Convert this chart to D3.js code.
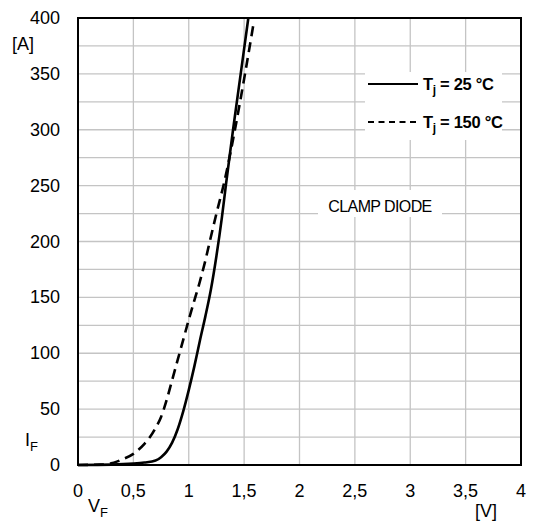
<!DOCTYPE html>
<html>
<head>
<meta charset="utf-8">
<script src="https://cdn.jsdelivr.net/npm/d3@7"></script>
<style>
body { margin: 0; background: #fff; }
svg { display: block; font-family: "Liberation Sans", Arial, sans-serif; }
</style>
</head>
<body>
<svg width="535" height="524"></svg>
<script>
// forward characteristic
var xTicks = [0, 0.5, 1, 1.5, 2, 2.5, 3, 3.5, 4];
var yTicks = [0, 50, 100, 150, 200, 250, 300, 350, 400];
var yGrid = d3.range(0, 401, 25);

var v25 = [0, 0.3, 0.5, 0.6, 0.7, 0.75, 0.8, 0.85, 0.9, 0.95, 1.0, 1.05, 1.1, 1.15, 1.2, 1.25, 1.3, 1.336, 1.4, 1.469, 1.538];
var i25 = [0, 0.3, 1.2, 2.2, 4, 7, 12, 20, 32, 48, 67, 88, 111, 133, 157, 187, 222, 251, 300, 350, 400];

var v150 = [0, 0.2, 0.3, 0.35, 0.4, 0.5, 0.6, 0.65, 0.7, 0.75, 0.8, 0.85, 0.9, 0.95, 1.0, 1.05, 1.1, 1.15, 1.19, 1.25, 1.318, 1.417, 1.508, 1.585];
var i150 = [0, 0.3, 1.5, 3, 5, 10, 19, 25, 33, 43, 58, 76, 94, 112, 130, 147, 164, 183, 200, 225, 252, 300, 350, 395];

var svg = d3.select("svg"),
	margin = {top: 18, right: 14, bottom: 59, left: 78},
	width = +svg.attr("width") - margin.left - margin.right,
	height = +svg.attr("height") - margin.top - margin.bottom,
	g = svg.append("g").attr("transform", "translate(" + margin.left + "," + margin.top + ")");

var x = d3.scaleLinear().domain([0, 4]).range([0, width]);
var y = d3.scaleLinear().domain([0, 400]).range([height, 0]);

// grid
g.append("g")
	.selectAll("line.v")
	.data(xTicks)
	.enter().append("line")
	.attr("x1", function(d) { return x(d); })
	.attr("x2", function(d) { return x(d); })
	.attr("y1", 0).attr("y2", height)
	.attr("stroke", "#c4c4c4").attr("stroke-width", 1.3);
g.append("g")
	.selectAll("line.h")
	.data(yGrid)
	.enter().append("line")
	.attr("y1", function(d) { return y(d); })
	.attr("y2", function(d) { return y(d); })
	.attr("x1", 0).attr("x2", width)
	.attr("stroke", "#c4c4c4").attr("stroke-width", 1.3);

// white boxes behind legend and label
g.append("rect").attr("x", 365 - margin.left).attr("y", 72 - margin.top)
	.attr("width", 137).attr("height", 68).attr("fill", "#fff");
g.append("rect").attr("x", 318 - margin.left).attr("y", 190 - margin.top)
	.attr("width", 124).attr("height", 27).attr("fill", "#fff");

var line = d3.line()
	.x(function(d) { return x(d[0]); })
	.y(function(d) { return y(d[1]); })
	.curve(d3.curveMonotoneX);

g.append("path")
	.datum(d3.zip(v150, i150))
	.attr("d", line)
	.attr("fill", "none")
	.attr("stroke", "#000")
	.attr("stroke-width", 2.6)
	.attr("stroke-dasharray", "10,6");

g.append("path")
	.datum(d3.zip(v25, i25))
	.attr("d", line)
	.attr("fill", "none")
	.attr("stroke", "#000")
	.attr("stroke-width", 2.6);

// frame
g.append("rect")
	.attr("width", width).attr("height", height)
	.attr("fill", "none").attr("stroke", "#000").attr("stroke-width", 2);

// tick labels
g.append("g")
	.selectAll("text")
	.data(xTicks)
	.enter().append("text")
	.attr("x", function(d) { return x(d); })
	.attr("y", 497 - margin.top)
	.attr("text-anchor", "middle")
	.attr("font-size", 18)
	.text(function(d) { return String(d).replace(".", ","); });
g.append("g")
	.selectAll("text")
	.data(yTicks)
	.enter().append("text")
	.attr("x", 60 - margin.left)
	.attr("y", function(d) { return y(d) + 6; })
	.attr("text-anchor", "end")
	.attr("font-size", 18)
	.text(function(d) { return d; });

// units and axis names
svg.append("text").attr("x", 12).attr("y", 50).attr("font-size", 18).text("[A]");
svg.append("text").attr("x", 475).attr("y", 517).attr("font-size", 18).text("[V]");
var iF = svg.append("text").attr("x", 25).attr("y", 446).attr("font-size", 18);
iF.append("tspan").text("I");
iF.append("tspan").attr("font-size", 13).attr("dy", 5).text("F");
var vF = svg.append("text").attr("x", 88).attr("y", 512).attr("font-size", 18);
vF.append("tspan").text("V");
vF.append("tspan").attr("font-size", 13).attr("dy", 5).text("F");

// legend
var legend = [
	{y: 84, dash: null, label: "25 °C"},
	{y: 122, dash: "6,4.5", label: "150 °C"}
];
legend.forEach(function(l) {
	svg.append("line")
		.attr("x1", 368).attr("x2", 418)
		.attr("y1", l.y).attr("y2", l.y)
		.attr("stroke", "#000").attr("stroke-width", 2)
		.attr("stroke-dasharray", l.dash);
	var t = svg.append("text")
		.attr("x", 423).attr("y", l.y + 6)
		.attr("font-size", 16.5).attr("font-weight", "bold")
		.attr("letter-spacing", -0.3);
	t.append("tspan").text("T");
	t.append("tspan").attr("font-size", 12).attr("dy", 4).text("j");
	t.append("tspan").attr("dy", -4).text(" = " + l.label);
});

svg.append("text")
	.attr("x", 380).attr("y", 212)
	.attr("text-anchor", "middle")
	.attr("font-size", 16)
	.attr("letter-spacing", -0.6)
	.text("CLAMP DIODE");
</script>
</body>
</html>
